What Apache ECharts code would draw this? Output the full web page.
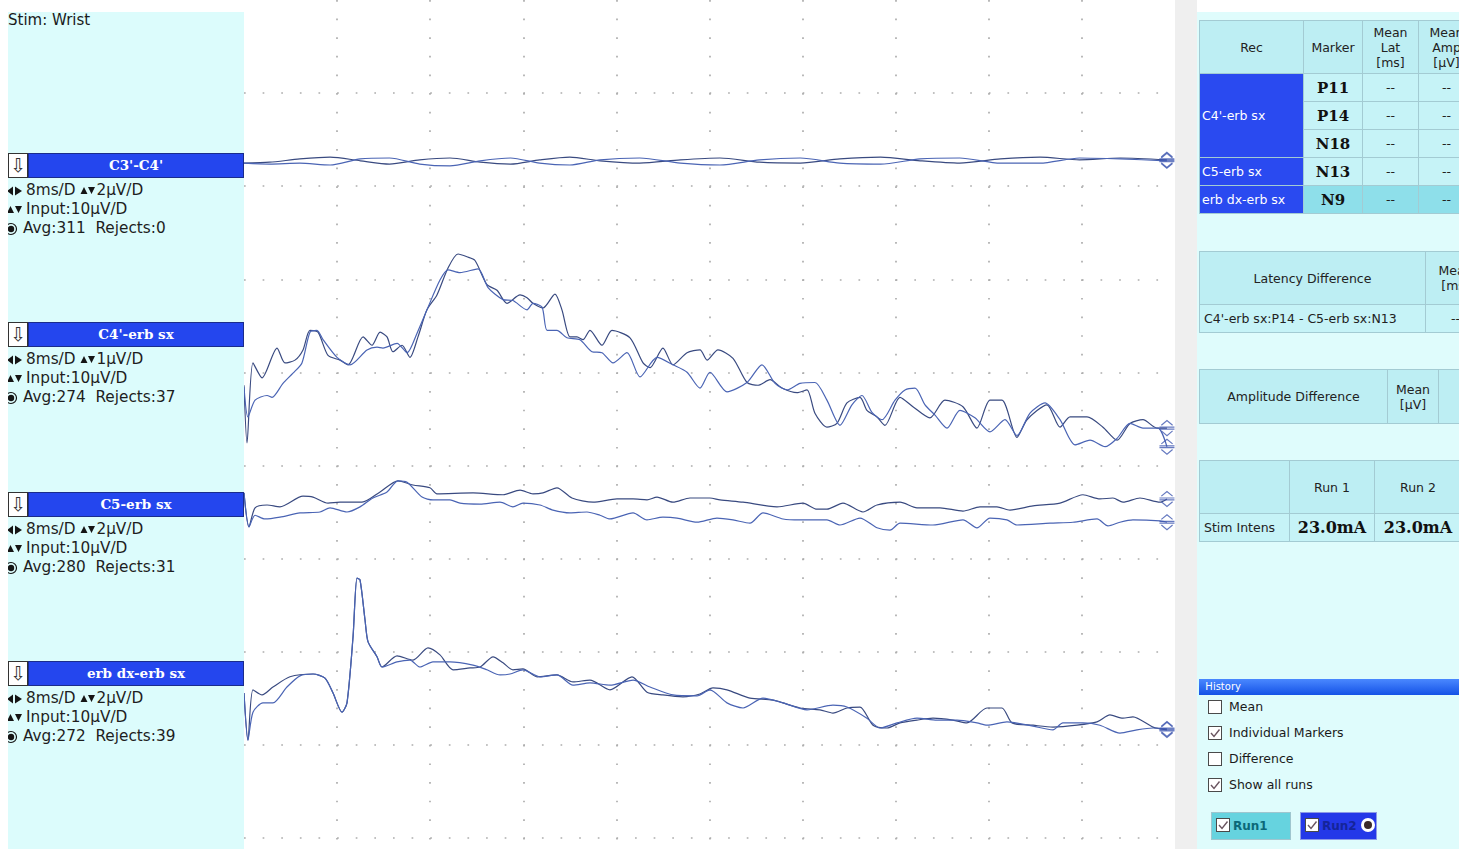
<!DOCTYPE html>
<html>
<head>
<meta charset="utf-8">
<title>SEP - Stim: Wrist</title>
<script src="https://cdn.jsdelivr.net/npm/echarts@6/dist/echarts.min.js"></script>
<style>
    body { margin: 0; width: 1472px; height: 849px; background: #fff; position: relative; overflow: hidden;
           font-family: "DejaVu Sans", Verdana, sans-serif; color: #1a1a1a; }
    #left { position: absolute; left: 8px; top: 12px; width: 236px; height: 837px; background: #dcfcfc; overflow: hidden; }
    #stim { position: absolute; left: 0; top: 0; font-size: 15px; line-height: 17px; }
    .bar { position: absolute; left: 0; width: 236px; height: 25px; }
    .bar .arr { position: absolute; left: 0; top: 0; width: 18px; height: 23px; background: #fff; border: 1px solid #333;
                font-size: 19px; line-height: 22px; text-align: center; color: #333; }
    .bar .lbl { position: absolute; left: 20px; top: 0; width: 214px; height: 23px; background: #2446ee; border: 1px solid #1a2c8c;
                color: #fff; font-family: "DejaVu Serif", serif; font-weight: bold; font-size: 13.5px; line-height: 23px; text-align: center; }
    .info { position: absolute; left: 0; height: 19px; font-size: 15.3px; line-height: 19px; white-space: nowrap; color: #1e1e1e; }
    .info svg { vertical-align: top; }
    #strip { position: absolute; left: 1175px; top: 0; width: 22px; height: 849px; background: #efefef; }
    #traces { position: absolute; left: 244px; top: 0; width: 931px; height: 849px; }
    #right { position: absolute; left: 1197px; top: 12px; width: 262px; height: 837px; background: #dffcfc; overflow: hidden; }
    table.tbl { position: absolute; left: 2px; border-collapse: collapse; table-layout: fixed; font-size: 12.5px; color: #222; }
    table.tbl td { border: 1px solid #a3cbd3; padding: 0; text-align: center; vertical-align: middle; white-space: nowrap;
                   overflow: hidden; background: #c6f3f7; }
    table.tbl td.hd { background: #bdeef3; line-height: 15px; }
    table.tbl td.rec { background: #2a4af0; color: #fff; text-align: left; padding-left: 2px; }
    table.tbl td.mk { font-family: "DejaVu Serif", serif; font-weight: bold; font-size: 15px; color: #111; }
    table.tbl td.sel { background: #8edfea; }
    table.tbl td.big { font-family: "DejaVu Serif", serif; font-weight: bold; font-size: 16px; color: #111; }
    table.tbl td.lft { text-align: left; padding-left: 4px; }
    #hist { position: absolute; left: 2px; top: 667px; width: 262px; height: 16px;
            background: linear-gradient(to bottom, #4a88ff, #1452e6); color: #fff; font-size: 10px; line-height: 16px; }
    .cb { position: absolute; left: 11px; font-size: 12.5px; line-height: 14px; white-space: nowrap; }
    .cb svg { vertical-align: top; margin-right: 7px; }
    .runbtn { position: absolute; top: 800px; height: 26px; border: 1px solid #9fc6cf; font-weight: bold; font-size: 12px;
              line-height: 26px; white-space: nowrap; overflow: hidden; }
    .runbtn svg { vertical-align: middle; margin: -3px 3px 0 4px; }
</style>
</head>
<body>
<div id="left">
    <div id="stim">Stim: Wrist</div>
</div>
<div id="traces"></div>
<div id="strip"></div>
<div id="right">
    <table class="tbl" style="top:8px;width:275px">
        <colgroup><col style="width:104px"><col style="width:59px"><col style="width:56px"><col style="width:56px"></colgroup>
        <tr style="height:53px"><td class="hd">Rec</td><td class="hd">Marker</td><td class="hd">Mean<br>Lat<br>[ms]</td><td class="hd">Mean<br>Amp<br>[µV]</td></tr>
        <tr style="height:28px"><td class="rec" rowspan="3">C4'-erb sx</td><td class="mk">P11</td><td>--</td><td>--</td></tr>
        <tr style="height:28px"><td class="mk">P14</td><td>--</td><td>--</td></tr>
        <tr style="height:28px"><td class="mk">N18</td><td>--</td><td>--</td></tr>
        <tr style="height:28px"><td class="rec">C5-erb sx</td><td class="mk">N13</td><td>--</td><td>--</td></tr>
        <tr style="height:28px"><td class="rec">erb dx-erb sx</td><td class="mk sel">N9</td><td class="sel">--</td><td class="sel">--</td></tr>
    </table>
    <table class="tbl" style="top:239px;width:286px">
        <colgroup><col style="width:226px"><col style="width:60px"></colgroup>
        <tr style="height:53px"><td class="hd">Latency Difference</td><td class="hd">Mean<br>[ms]</td></tr>
        <tr style="height:28px"><td class="lft">C4'-erb sx:P14 - C5-erb sx:N13</td><td>--</td></tr>
    </table>
    <table class="tbl" style="top:357px;width:280px">
        <colgroup><col style="width:188px"><col style="width:51px"><col style="width:41px"></colgroup>
        <tr style="height:54px"><td class="hd">Amplitude Difference</td><td class="hd">Mean<br>[µV]</td><td class="hd"></td></tr>
    </table>
    <table class="tbl" style="top:448px;width:262px">
        <colgroup><col style="width:90px"><col style="width:85px"><col style="width:87px"></colgroup>
        <tr style="height:53px"><td class="hd"></td><td class="hd">Run 1</td><td class="hd">Run 2</td></tr>
        <tr style="height:28px"><td class="lft">Stim Intens</td><td class="big">23.0mA</td><td class="big">23.0mA</td></tr>
    </table>
    <div id="hist">&nbsp;&nbsp;History</div>
</div>

<script>
// Evoked potential traces, two runs per recording channel
// Time base 8 ms/D, 10 divisions

// ---- datos de las curvas: [ms, µV] ----
// C3'-C4' (tiempos compartidos por las dos corridas)
const c3c4Time = [0, 2.2, 4.8, 7.4, 10.0, 12.5, 15.1, 17.7, 20.3, 22.9, 25.4, 28.0, 30.6, 34.0, 37.5, 40.9, 44.3, 47.8, 51.2, 54.7, 58.1, 61.5, 65.0, 68.4, 71.8, 75.3, 79.3];
const c3c4Run1 = [0.04, 0.06, 0.13, 0.17, 0.09, 0.02, 0.11, 0.15, 0.06, 0.02, 0.11, 0.17, 0.09, 0.04, 0.11, 0.15, 0.06, 0.04, 0.13, 0.17, 0.09, 0.04, 0.13, 0.17, 0.11, 0.15, 0.11];
const c3c4Run2 = [0.04, 0.02, 0.04, 0.00, 0.13, 0.15, 0.02, -0.02, 0.09, 0.15, 0.04, 0.00, 0.11, 0.15, 0.04, 0.00, 0.11, 0.15, 0.04, 0.02, 0.13, 0.15, 0.04, 0.04, 0.15, 0.13, 0.09];

// C4'-erb sx
const c4erbRun1 = [[0,-0.54],[0.26,-1.16],[0.77,-0.30],[1.55,-0.46],[2.84,-0.14],[3.52,-0.30],[4.38,-0.27],[5.07,-0.16],[5.67,0.05],[6.36,0.03],[7.22,-0.22],[8.25,-0.27],[8.94,-0.32],[10.23,-0.02],[11.0,-0.11],[11.69,0.03],[12.29,-0.02],[12.8,-0.18],[13.58,-0.11],[14.26,-0.24],[14.95,-0.02],[15.72,0.27],[16.58,0.43],[17.53,0.72],[18.39,0.87],[19.16,0.84],[19.85,0.80],[20.88,0.54],[21.74,0.48],[22.6,0.34],[23.72,0.43],[24.32,0.40],[24.83,0.34],[25.69,0.29],[26.72,0.44],[27.32,0.27],[28.01,-0.02],[28.61,-0.02],[29.13,-0.05],[29.73,0.05],[30.76,-0.11],[31.62,0.05],[33.17,-0.03],[34.29,-0.30],[34.89,-0.35],[36.0,-0.14],[36.86,-0.32],[38.07,-0.19],[39.18,-0.16],[39.79,-0.27],[40.73,-0.16],[42.02,-0.25],[43.22,-0.51],[44.17,-0.54],[45.2,-0.48],[46.23,-0.57],[47.52,-0.62],[48.38,-0.59],[49.06,-0.84],[50.09,-0.99],[50.95,-0.95],[51.81,-0.73],[52.93,-0.67],[53.53,-0.81],[54.39,-0.88],[55.08,-0.97],[56.37,-0.67],[57.48,-0.77],[58.94,-0.89],[60.23,-0.70],[61.78,-0.77],[62.98,-1.00],[64.1,-0.70],[65.13,-0.70],[66.42,-1.10],[67.28,-0.91],[69.0,-0.75],[70.12,-0.99],[70.98,-0.88],[72.44,-0.88],[73.81,-0.99],[75.02,-1.13],[76.13,-0.95],[77.25,-0.91],[78.45,-1.00],[79.31,-1.00]];
const c4erbRun2 = [[0,-0.56],[0.34,-0.88],[0.95,-0.70],[1.98,-0.65],[2.41,-0.67],[3.35,-0.52],[4.21,-0.41],[4.98,-0.30],[5.67,0.03],[6.27,0.05],[6.79,-0.05],[7.99,-0.24],[9.11,-0.32],[10.57,-0.16],[11.43,-0.13],[11.94,-0.14],[13.15,-0.09],[14.01,-0.19],[14.87,0.02],[15.72,0.27],[16.84,0.59],[17.53,0.70],[18.56,0.67],[20.11,0.71],[20.97,0.51],[22.26,0.38],[23.11,0.37],[24.32,0.27],[24.83,0.34],[25.61,0.30],[26.04,0.05],[26.89,0.05],[27.75,-0.03],[28.87,-0.05],[29.9,-0.18],[30.76,-0.19],[31.71,-0.30],[32.91,-0.19],[34.03,-0.45],[35.49,-0.24],[36.86,-0.32],[38.07,-0.40],[39.18,-0.57],[40.04,-0.40],[41.5,-0.61],[43.22,-0.51],[44.51,-0.32],[45.63,-0.52],[46.66,-0.59],[47.78,-0.52],[49.06,-0.51],[50.09,-0.70],[51.21,-0.97],[52.24,-0.75],[53.1,-0.65],[53.96,-0.83],[54.82,-0.91],[55.94,-0.70],[56.8,-0.59],[57.66,-0.57],[58.52,-0.75],[59.38,-0.86],[60.41,-1.00],[61.52,-0.81],[62.81,-0.89],[64.1,-1.04],[65.39,-0.91],[66.42,-1.08],[67.54,-0.84],[68.83,-0.73],[70.12,-0.91],[71.41,-1.18],[72.7,-1.13],[73.99,-1.20],[75.02,-1.11],[76.13,-0.95],[77.25,-1.00],[78.54,-1.00],[79.31,-1.20]];

// C5-erb sx
const c5erbRun1 = [[0,0.26],[0.43,-0.47],[0.95,-0.06],[1.98,0],[3.09,-0.04],[5.07,0.19],[5.93,0.17],[7.22,0.04],[8.25,0.06],[10.14,0.06],[11.69,0.28],[13.23,0.52],[14.52,0.43],[15.98,0.37],[16.58,0.24],[19.68,0.26],[22.26,0.22],[23.72,0.32],[24.83,0.24],[25.69,0.26],[26.89,0.37],[28.18,0.15],[29.99,0.06],[32.05,0.13],[33.43,0.13],[34.63,0.11],[35.49,0.17],[36.86,0.06],[38.32,0.15],[40.04,0.15],[40.9,0.11],[42.88,0.06],[45.8,-0.04],[48.03,0.04],[49.23,-0.09],[50.09,-0.09],[51.47,0.04],[53.19,-0.15],[54.39,0],[56.37,0.06],[57.83,-0.06],[59.81,-0.06],[61.78,-0.13],[63.24,-0.04],[64.7,-0.04],[65.82,-0.11],[67.8,-0.02],[70.12,0.04],[72.09,0.22],[73.55,0.13],[74.67,0.15],[75.53,0.06],[76.99,0.15],[78.71,0.06],[79.31,0.13]];
const c5erbRun2 = [[0,0.26],[0.43,-0.47],[0.95,-0.22],[1.8,-0.30],[3.09,-0.26],[4.81,-0.17],[6.53,-0.15],[7.39,-0.06],[8.85,-0.15],[9.97,-0.04],[11.08,0.15],[12.29,0.28],[13.23,0.52],[14.01,0.49],[15.3,0.17],[16.24,0.11],[17.7,0.11],[18.56,0.04],[20.28,0.02],[22.0,0.06],[23.11,-0.04],[23.97,0.04],[25.43,0],[26.55,-0.11],[28.01,-0.17],[29.47,-0.15],[30.59,-0.22],[31.45,-0.30],[33.43,-0.17],[34.63,-0.32],[36.0,-0.26],[37.21,-0.28],[38.93,-0.37],[40.64,-0.28],[42.02,-0.32],[43.48,-0.39],[44.6,-0.17],[46.32,-0.30],[47.78,-0.32],[50.09,-0.32],[51.21,-0.43],[52.93,-0.28],[54.39,-0.49],[55.51,-0.54],[56.37,-0.39],[59.2,-0.43],[61.78,-0.32],[62.98,-0.49],[64.1,-0.28],[65.56,-0.32],[66.42,-0.43],[69.26,-0.39],[71.23,-0.37],[73.3,-0.30],[74.24,-0.45],[75.27,-0.37],[76.39,-0.32],[78.71,-0.34],[79.31,-0.37]];

// erb dx-erb sx
const erbRun1 = [[0,-0.41],[0.34,-1.42],[0.77,-0.34],[1.55,-0.45],[2.49,-0.28],[3.95,-0.06],[5.93,0],[6.96,-0.09],[7.65,-0.41],[8.42,-0.82],[8.85,-0.62],[9.37,0.80],[9.71,2.06],[9.97,2.02],[10.4,1.16],[10.66,0.69],[11.43,0.37],[11.86,0.15],[13.15,0.39],[14.52,0.30],[15.81,0.56],[16.84,0.41],[17.96,0.09],[19.42,0.13],[20.28,0.15],[21.4,0.37],[22.26,0.24],[23.11,0.09],[23.97,0.11],[25.18,-0.06],[26.89,-0.02],[28.27,-0.17],[29.73,-0.13],[31.45,-0.34],[33.34,-0.06],[34.63,-0.39],[36.0,-0.45],[37.72,-0.49],[39.18,-0.43],[40.3,-0.30],[41.5,-0.34],[43.48,-0.52],[45.46,-0.56],[47.78,-0.73],[49.49,-0.77],[50.61,-0.84],[51.81,-0.73],[52.93,-0.71],[54.05,-1.10],[55.25,-1.16],[56.37,-1.05],[57.83,-0.99],[59.2,-0.95],[60.92,-0.99],[62.12,-1.05],[63.84,-0.73],[65.13,-0.73],[65.99,-1.05],[67.8,-1.10],[69.51,-1.14],[71.58,-1.10],[73.3,-1.03],[74.41,-0.88],[75.53,-0.95],[76.39,-0.92],[78.11,-1.14],[79.31,-1.20]];
const erbRun2 = [[0,-0.41],[0.34,-1.42],[0.77,-0.82],[1.63,-0.62],[2.49,-0.62],[3.69,-0.28],[4.81,-0.04],[5.93,0],[6.96,-0.09],[7.65,-0.41],[8.42,-0.82],[8.85,-0.62],[9.37,0.80],[9.71,2.06],[9.97,2.02],[10.4,1.16],[10.66,0.69],[11.43,0.37],[11.86,0.15],[13.15,0.26],[14.26,0.30],[15.12,0.15],[16.24,0.26],[17.7,0.26],[19.68,0.19],[20.88,0.09],[22.0,-0.02],[22.86,0],[23.97,0.09],[25.43,-0.06],[26.89,-0.02],[28.27,-0.24],[29.73,-0.19],[31.45,-0.24],[33.43,-0.13],[34.89,-0.28],[36.86,-0.45],[38.93,-0.47],[40.04,-0.34],[41.5,-0.62],[42.88,-0.73],[44.6,-0.52],[46.32,-0.62],[48.38,-0.77],[50.61,-0.67],[51.81,-0.71],[53.53,-0.95],[54.65,-1.16],[56.11,-1.05],[57.83,-0.95],[59.55,-0.99],[61.27,-0.99],[62.98,-1.05],[63.84,-1.10],[65.56,-1.03],[67.8,-1.12],[69.51,-1.20],[70.37,-1.05],[72.09,-1.05],[73.55,-1.10],[75.27,-1.27],[76.73,-1.20],[78.11,-1.16],[79.31,-1.18]];

// ---- etiquetas de los canales ----
const channelNames = ["C3'-C4'", "C4'-erb sx", "C5-erb sx", "erb dx-erb sx"];
const sweepLabels = ['8ms/D', '8ms/D', '8ms/D', '8ms/D'];
const sensitivity = [2, 1, 2, 2];          // µV/D
const inputRange = [10, 10, 10, 10];      // µV/D
const averages = [311, 274, 280, 272];
const rejects = [0, 37, 31, 39];
const historyItems = ['Mean', 'Individual Markers', 'Difference', 'Show all runs'];
const historyChecked = [false, true, false, true];

// ---- layout (pixels) ----
const PX_PER_DIV = 93.1;
const PLOT_H = 849;
const barTops = [153, 322, 492, 661];
const baselines = [165, 335, 505, 674];
const runColors = ['#394a80', '#4a64b4'];

// iconos del panel izquierdo (svg, recortados en el borde)
const ICON_SWEEP = '<svg width="18" height="19"><path d="M-1 10 L5 5.5 L5 14.5 Z M7 5.5 L14 10 L7 14.5 Z" fill="#151515"/></svg>';
const ICON_SENS = '<svg width="16" height="19"><path d="M0.5 13 L4 6 L7.5 13 Z M8 6 L15 6 L11.5 13 Z" fill="#151515"/></svg>';
const ICON_INPUT = '<svg width="18" height="19"><path d="M-1 13 L2.5 6 L6 13 Z M7 6 L14 6 L10.5 13 Z" fill="#151515"/></svg>';
const ICON_AVG = '<svg width="15" height="19"><circle cx="3" cy="10" r="5.5" fill="none" stroke="#151515" stroke-width="1.2"/><circle cx="3" cy="10" r="3.2" fill="#151515"/></svg>';

// Panel izquierdo
const left = document.getElementById('left');
channelNames.forEach((name, i) => {
    const top = barTops[i] - 12;
    const bar = document.createElement('div');
    bar.className = 'bar';
    bar.style.top = top + 'px';
    bar.innerHTML = '<div class="arr">⇩</div><div class="lbl">' + name + '</div>';
    left.appendChild(bar);
    const lines = [
        ICON_SWEEP + sweepLabels[i] + ' ' + ICON_SENS + sensitivity[i] + 'µV/D',
        ICON_INPUT + 'Input:' + inputRange[i] + 'µV/D',
        ICON_AVG + 'Avg:' + averages[i] + '&nbsp; Rejects:' + rejects[i]
    ];
    lines.forEach((html, k) => {
        const info = document.createElement('div');
        info.className = 'info';
        info.style.top = (top + 28 + k * 19) + 'px';
        info.innerHTML = html;
        left.appendChild(info);
    });
});

// Historial / checkboxes
function checkBox(checked) {
    return '<svg width="14" height="14"><rect x="0.5" y="0.5" width="13" height="13" fill="#fff" stroke="#4a4a4a"/>' +
        (checked ? '<path d="M3 7 L6 10.5 L11.5 3.5" fill="none" stroke="#6a5560" stroke-width="1.4"/>' : '') + '</svg>';
}
const right = document.getElementById('right');
historyItems.forEach((txt, i) => {
    const d = document.createElement('div');
    d.className = 'cb';
    d.style.top = (688 + i * 26) + 'px';
    d.innerHTML = checkBox(historyChecked[i]) + txt;
    right.appendChild(d);
});
const run1 = document.createElement('div');
run1.className = 'runbtn';
run1.style.cssText = 'left:14px;width:78px;background:#66d3df;color:#0b6878';
run1.innerHTML = checkBox(true) + 'Run1';
right.appendChild(run1);
const run2 = document.createElement('div');
run2.className = 'runbtn';
run2.style.cssText = 'left:103px;width:75px;background:#2438e8;color:#14249a;border-color:#8d9ae6';
run2.innerHTML = checkBox(true) + 'Run2<svg width="16" height="16" style="margin:-3px 0 0 3px"><circle cx="8" cy="8" r="7" fill="#fff"/><circle cx="8" cy="8" r="4" fill="#3a2a2a"/></svg>';
right.appendChild(run2);

// ---- gráfica de trazos ----
function initTraces() {
    const chart = echarts.init(document.getElementById('traces'));

    const gridDots = {
        show: true,
        showMinLine: false,
        showMaxLine: false,
        lineStyle: { color: '#adadad', width: 1.7, type: [1.7, 16.92], dashOffset: 0 }
    };

    // eje 0: divisiones (solo para la cuadrícula), ejes 1..4: µV de cada canal
    const yAxes = [{
        type: 'value', inverse: true, min: 0, max: PLOT_H / PX_PER_DIV, interval: 1,
        axisLine: { show: false }, axisTick: { show: false }, axisLabel: { show: false },
        splitLine: gridDots
    }];
    baselines.forEach((b, i) => {
        yAxes.push({
            type: 'value', show: false,
            min: -(PLOT_H - b) / PX_PER_DIV * sensitivity[i],
            max: b / PX_PER_DIV * sensitivity[i],
            splitLine: { show: false }
        });
    });

    const runsPerChannel = [
        [c3c4Time.map((t, k) => [t, c3c4Run1[k]]), c3c4Time.map((t, k) => [t, c3c4Run2[k]])],
        [c4erbRun1, c4erbRun2],
        [c5erbRun1, c5erbRun2],
        [erbRun1, erbRun2]
    ];

    const series = [];
    runsPerChannel.forEach((runs, ch) => {
        runs.forEach((data, r) => {
            series.push({
                name: channelNames[ch] + ' Run' + (r + 1),
                type: 'line',
                xAxisIndex: 0,
                yAxisIndex: ch + 1,
                data: data,
                smooth: 0.25,
                symbol: 'none',
                lineStyle: { color: runColors[r], width: 1.2 },
                silent: true
            });
        });
        // marcador de fin de trazo
        series.push({
            type: 'scatter',
            yAxisIndex: ch + 1,
            data: runs.map(d => d[d.length - 1]),
            symbol: 'path://M-6,-3 L0,-8 L6,-3 M-6,3 L0,8 L6,3 M-8,-1 L8,-1 M-8,1 L8,1',
            symbolSize: [15, 15],
            itemStyle: { color: 'rgba(0,0,0,0)', borderColor: '#3e58b0', borderWidth: 1.2 },
            silent: true,
            z: 3
        });
    });

    chart.setOption({
        animation: false,
        grid: { left: 0, right: 0, top: 0, bottom: 0 },
        xAxis: {
            type: 'value', min: 0, max: 80, interval: 8,
            axisLine: { show: false }, axisTick: { show: false }, axisLabel: { show: false },
            splitLine: gridDots
        },
        yAxis: yAxes,
        series: series
    });
    return chart;
}

window.tracesChart = initTraces();
</script>
</body>
</html>
